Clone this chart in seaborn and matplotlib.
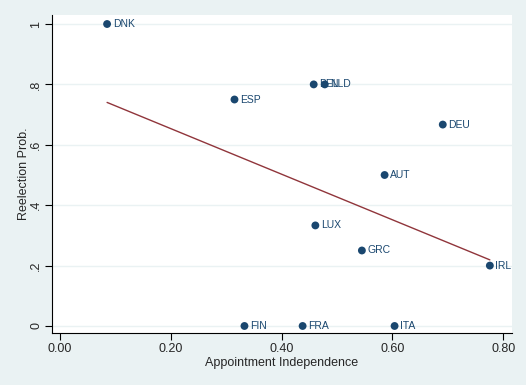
import matplotlib
matplotlib.use("Agg")
import matplotlib.pyplot as plt
import seaborn as sns
import pandas as pd

countries = ["DNK", "ESP", "BEL", "NLD", "DEU", "AUT", "LUX", "GRC", "IRL", "FIN", "FRA", "ITA"]
independence = [0.085, 0.315, 0.458, 0.478, 0.691, 0.586, 0.461, 0.545, 0.776, 0.333, 0.438, 0.604]
reelection = [1.0, 0.75, 0.8, 0.8, 0.667, 0.5, 0.333, 0.25, 0.2, 0.0, 0.0, 0.0]
x_ticks = [0.0, 0.2, 0.4, 0.6, 0.8]
x_tick_labels = ["0.00", "0.20", "0.40", "0.60", "0.80"]
y_ticks = [0, 0.2, 0.4, 0.6, 0.8, 1.0]
y_tick_labels = ["0", ".2", ".4", ".6", ".8", "1"]

df = pd.DataFrame({"country": countries, "indep": independence, "reelect": reelection})

navy = "#1a476f"
maroon = "#90353b"
bg = "#eaf2f3"

sns.set_style("white")
plt.rcParams["font.family"] = ["Liberation Sans", "DejaVu Sans"]

fig = plt.figure(figsize=(5.26, 3.85), dpi=100, facecolor=bg)
ax = fig.add_axes([0.0989, 0.1351, 0.8745, 0.8259])
ax.set_facecolor("white")

for y in y_ticks:
    ax.axhline(y, color=bg, lw=1.0, zorder=0)

sns.regplot(data=df, x="indep", y="reelect", ci=None, ax=ax,
            scatter_kws=dict(s=32, color=navy, edgecolor="none", alpha=1, zorder=3),
            line_kws=dict(color=maroon, lw=1.0, zorder=2))

for c, xv, yv in zip(countries, independence, reelection):
    ax.annotate(c, (xv, yv), xytext=(4, 0), textcoords="offset points",
                ha="left", va="center", fontsize=7.5, color=navy, zorder=4)

ax.set_xlim(-0.0144, 0.816)
ax.set_ylim(-0.0232, 1.0298)
ax.set_xticks(x_ticks)
ax.set_xticklabels(x_tick_labels, fontsize=9)
ax.set_yticks(y_ticks)
ax.set_yticklabels(y_tick_labels, fontsize=9, rotation=90, va="center")
ax.set_xlabel("Appointment Independence", fontsize=9, labelpad=2)
ax.set_ylabel("Reelection Prob.", fontsize=9, labelpad=0)

for s in ["top", "right"]:
    ax.spines[s].set_visible(False)
for s in ["left", "bottom"]:
    ax.spines[s].set_color("black")
    ax.spines[s].set_linewidth(0.8)
ax.tick_params(axis="both", direction="out", length=5, width=0.8, color="black",
               left=True, bottom=True, pad=2)

fig.savefig("out.png", dpi=100, facecolor=bg)
